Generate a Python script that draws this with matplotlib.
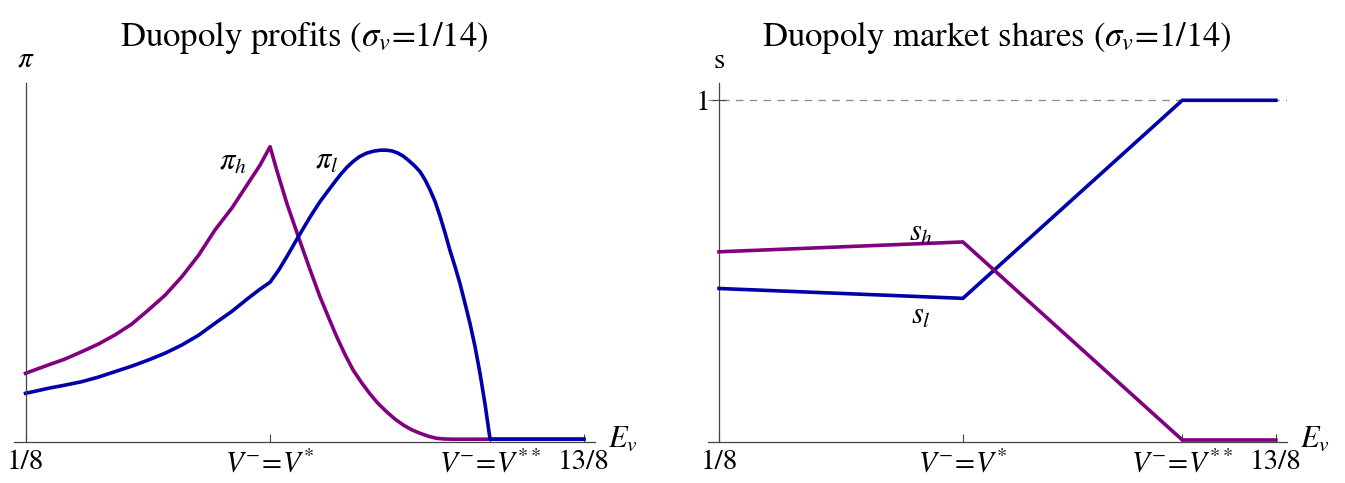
import numpy as np
import matplotlib
matplotlib.use("Agg")
from matplotlib import pyplot as plt

plt.rcParams['mathtext.fontset'] = 'stix'
plt.rcParams['font.family'] = ['STIXGeneral', 'DejaVu Serif']

# cut points of E_v
V_lo = 0.125
V_star = 0.782
V_2star = 1.373
V_hi = 1.625

tick_pos = [V_lo, V_star, V_2star, V_hi]
tick_labels = ['1/8', r'$V^{-}\!=\!V^{*}$', r'$V^{-}\!=\!V^{**}$', '13/8']

# profits (arbitrary units)
Ev_h = [0.125, 0.155, 0.186, 0.23, 0.276, 0.32, 0.365, 0.41, 0.455, 0.50,
        0.545, 0.59, 0.634, 0.68, 0.723, 0.755, 0.782,
        0.80, 0.827, 0.858, 0.887, 0.916, 0.94, 0.961, 0.983, 1.005, 1.028,
        1.050, 1.072, 1.095, 1.118, 1.140, 1.162, 1.185, 1.207, 1.229, 1.25,
        1.274, 1.625]
pi_h = [0.0659, 0.0700, 0.0742, 0.0800, 0.0875, 0.0950, 0.1042, 0.1150, 0.1292, 0.1440,
        0.1625, 0.1840, 0.2092, 0.2315, 0.2559, 0.2740, 0.2925,
        0.2690, 0.2359, 0.2025, 0.1720, 0.1425, 0.1210, 0.1025, 0.0850, 0.0692, 0.0565,
        0.0455, 0.0358, 0.0275, 0.0200, 0.0142, 0.0095, 0.0059, 0.0030, 0.0009, 0.0002,
        0.0, 0.0]

Ev_l = [0.125, 0.155, 0.186, 0.23, 0.276, 0.32, 0.365, 0.41, 0.455, 0.50,
        0.545, 0.59, 0.634, 0.68, 0.723, 0.755, 0.782,
        0.805, 0.827, 0.858, 0.890, 0.916, 0.935, 0.953, 0.972, 0.990, 1.006,
        1.022, 1.041, 1.060, 1.078, 1.095, 1.110, 1.125, 1.140, 1.155, 1.170,
        1.185, 1.199, 1.212, 1.226, 1.239, 1.252, 1.265, 1.279, 1.292, 1.305,
        1.319, 1.333, 1.346, 1.360, 1.373, 1.625]
pi_l = [0.0459, 0.0483, 0.0509, 0.0540, 0.0575, 0.0620, 0.0675, 0.0730, 0.0792, 0.0860,
        0.0942, 0.1040, 0.1159, 0.1280, 0.1409, 0.1500, 0.1570,
        0.1690, 0.1825, 0.2025, 0.2225, 0.2375, 0.2470, 0.2559, 0.2650, 0.2725, 0.2780,
        0.2825, 0.2860, 0.2880, 0.2890, 0.2890, 0.2882, 0.2862, 0.2830, 0.2785, 0.2735,
        0.2675, 0.2590, 0.2492, 0.2370, 0.2225, 0.2065, 0.1892, 0.1725, 0.1559, 0.1370,
        0.1159, 0.0920, 0.0659, 0.0340, 0.0, 0.0]

# market shares
Ev_s = [0.125, 0.782, 1.373, 1.625]
s_h = [0.554, 0.583, 0.0, 0.0]
s_l = [0.446, 0.417, 1.0, 1.0]

purple = '#800080'
blue = '#0000aa'
axcol = '#444444'
lw = 2.6

fig = plt.figure(figsize=(13.45, 4.83), dpi=100)
W, H = 1345, 483
xlim = (0.094, 1.655)


def setup(ax, ylo, yhi):
    ax.set_xlim(*xlim)
    ax.set_ylim(ylo, yhi)
    for sp in ['top', 'right']:
        ax.spines[sp].set_visible(False)
    ax.spines['left'].set_position(('data', V_lo))
    ax.spines['left'].set_color(axcol)
    ax.spines['bottom'].set_color(axcol)
    ax.spines['left'].set_linewidth(0.9)
    ax.spines['bottom'].set_linewidth(0.9)
    ax.set_xticks(tick_pos)
    ax.set_xticklabels(tick_labels, fontsize=21)
    ax.tick_params(axis='x', direction='in', length=6, width=0.8,
                   color=axcol, pad=6)
    ax.text(xlim[1] + 0.035, 0, r'$E_v$', fontsize=22, ha='left', va='center',
            clip_on=False)


# left panel
ax1 = fig.add_axes([14 / W, 41.3 / H, 581 / W, 358.4 / H])
setup(ax1, -0.0025, 0.3559)
ax1.set_yticks([])
ax1.plot(Ev_h, pi_h, color=purple, lw=lw, clip_on=False)
ax1.plot(Ev_l, pi_l, color=blue, lw=lw, clip_on=False)
ax1.text(0.683, 0.276, r'$\pi_h$', fontsize=22, ha='center', va='center')
ax1.text(0.934, 0.277, r'$\pi_l$', fontsize=22, ha='center', va='center')
ax1.text(V_lo, 0.379, r'$\pi$', fontsize=21, ha='center', va='center', clip_on=False)
ax1.set_title(r'Duopoly profits ($\sigma_v$=1/14)', fontsize=25, pad=27)

# right panel
ax2 = fig.add_axes([707.5 / W, 41.3 / H, 579.5 / W, 358.4 / H])
setup(ax2, -0.005, 1.05)
ax2.set_yticks([1])
ax2.set_yticklabels(['1'], fontsize=21)
ax2.tick_params(axis='y', direction='inout', length=10, width=0.8,
                color=axcol, pad=1)
ax2.axhline(1, xmin=0, xmax=1, color='#888888', lw=0.9, ls=(0, (6, 5)), zorder=1)
ax2.plot(Ev_s, s_l, color=blue, lw=lw, clip_on=False, zorder=3)
ax2.plot(Ev_s, s_h, color=purple, lw=lw, clip_on=False, zorder=3)
ax2.text(0.669, 0.608, r'$s_h$', fontsize=22, ha='center', va='center')
ax2.text(0.669, 0.363, r'$s_l$', fontsize=22, ha='center', va='center')
ax2.text(V_lo, 1.114, 's', fontsize=21, ha='center', va='center', clip_on=False)
ax2.set_title(r'Duopoly market shares ($\sigma_v$=1/14)', fontsize=25, pad=27)

fig.savefig('out.png', dpi=100)
